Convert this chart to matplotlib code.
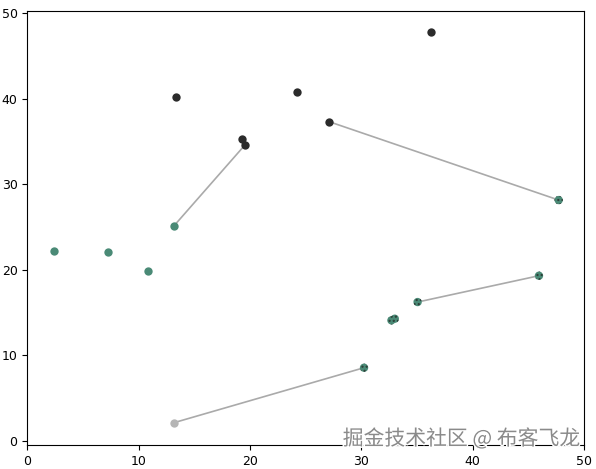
import matplotlib
matplotlib.use("Agg")
import matplotlib.pyplot as plt
import matplotlib.patheffects as pe

# dark points
dark_x = [13.37, 19.32, 19.55, 24.23, 36.25, 27.12]
dark_y = [40.24, 35.29, 34.60, 40.75, 47.80, 37.31]

# plain green points
green_x = [13.15, 2.43, 7.21, 10.87]
green_y = [25.10, 22.20, 22.07, 19.85]

# stippled green points
stip_x = [47.72, 45.95, 35.05, 32.70, 33.00, 30.24]
stip_y = [28.15, 19.30, 16.22, 14.08, 14.27, 8.54]

# gray point
gray_x = [13.15]
gray_y = [2.10]

# connecting segments: (x0, y0, x1, y1)
seg_x0 = [13.15, 27.12, 35.05, 13.15]
seg_y0 = [25.10, 37.31, 16.22, 2.10]
seg_x1 = [19.55, 47.72, 45.95, 30.24]
seg_y1 = [34.60, 28.15, 19.30, 8.54]

fig = plt.figure(figsize=(5.96, 4.69), dpi=100)
ax = fig.add_axes([0.0458, 0.0512, 0.9342, 0.9260])

for x0, y0, x1, y1 in zip(seg_x0, seg_y0, seg_x1, seg_y1):
    ax.plot([x0, x1], [y0, y1], color="#aaaaaa", lw=1.2, zorder=1)

ax.scatter(dark_x, dark_y, s=36, color="#2b2b2b", zorder=3, linewidths=0)
ax.scatter(green_x, green_y, s=36, color="#4a8a76", zorder=3, linewidths=0)
ax.scatter(stip_x, stip_y, s=36, facecolor="#4a8a76", edgecolor="#2b3b35",
           hatch="....", linewidths=0, zorder=3)
ax.scatter(gray_x, gray_y, s=36, color="#b5b5b5", zorder=3, linewidths=0)

ax.set_xlim(0, 50)
ax.set_ylim(-0.5, 50.3)
ax.set_xticks([0, 10, 20, 30, 40, 50])
ax.set_yticks([0, 10, 20, 30, 40, 50])
ax.tick_params(labelsize=9)

fig.text(0.974, 0.064, "掘金技术社区 @ 布客飞龙", ha="right", va="center",
         fontsize=15, color="#8a8a8a",
         family=["Noto Sans CJK SC", "DejaVu Sans"],
         path_effects=[pe.withStroke(linewidth=2, foreground="white")])

fig.savefig("out.png", dpi=100)
